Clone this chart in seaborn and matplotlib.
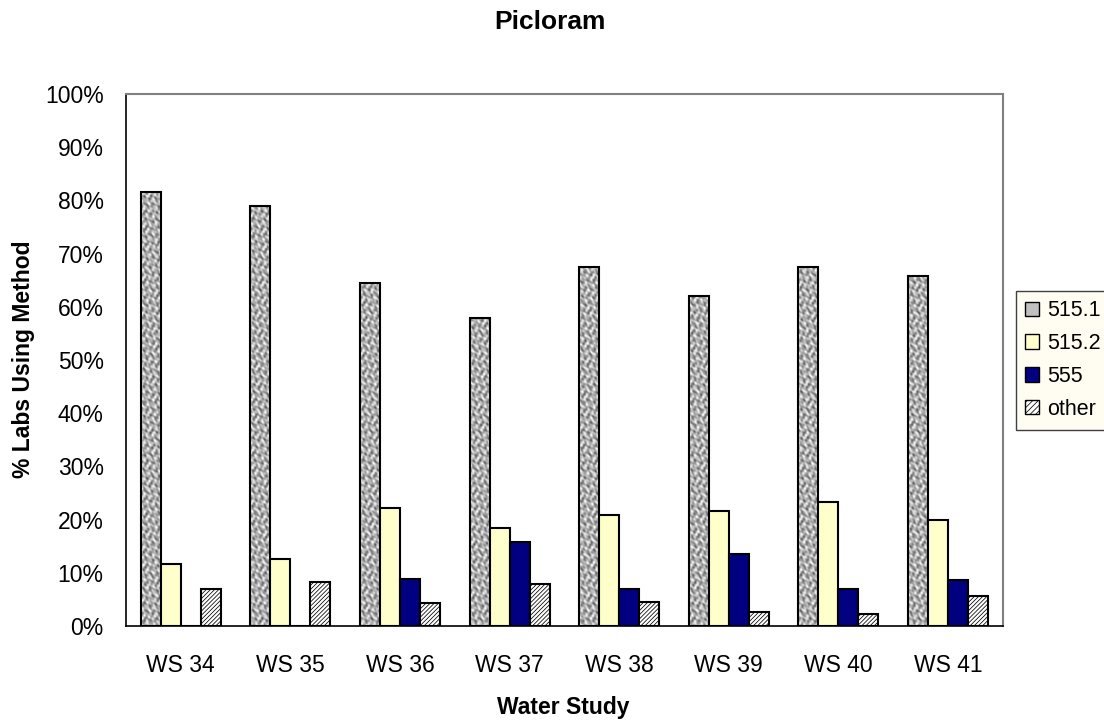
import numpy as np
import pandas as pd
import seaborn as sns
import matplotlib.pyplot as plt
from matplotlib.patches import Patch
from matplotlib.ticker import PercentFormatter, FixedLocator

# Picloram: share of labs using each method per water study
studies = ['WS 34', 'WS 35', 'WS 36', 'WS 37', 'WS 38', 'WS 39', 'WS 40', 'WS 41']
methods = ['515.1', '515.2', '555', 'other']
m515_1 = [81.5, 79.0, 64.5, 57.8, 67.4, 62.1, 67.4, 65.7]
m515_2 = [11.6, 12.5, 22.2, 18.5, 20.9, 21.6, 23.3, 20.0]
m555 = [0.0, 0.0, 8.9, 15.8, 7.0, 13.5, 7.0, 8.6]
other = [7.0, 8.3, 4.4, 7.9, 4.6, 2.7, 2.3, 5.7]

df = pd.DataFrame({
    'study': studies * 4,
    'method': np.repeat(methods, len(studies)),
    'pct': m515_1 + m515_2 + m555 + other,
})

sns.set_style('white')
plt.rcParams['font.family'] = ['Liberation Sans', 'DejaVu Sans']
plt.rcParams['text.color'] = 'black'
plt.rcParams['xtick.color'] = 'black'
plt.rcParams['ytick.color'] = 'black'
plt.rcParams['hatch.linewidth'] = 0.55
plt.rcParams['hatch.color'] = '#444444'

colors = {'515.1': '#b0b0b0', '515.2': '#ffffcc', '555': '#000080', 'other': '#ffffff'}

fig = plt.figure(figsize=(11.04, 7.23), dpi=100)
ax = fig.add_axes([0.1141, 0.1342, 0.7941, 0.7358])

sns.barplot(data=df, x='study', y='pct', hue='method', order=studies,
            hue_order=methods, palette=colors, saturation=1, width=0.73, gap=0,
            edgecolor='black', linewidth=1.5, legend=False, ax=ax)

# mottled granite-like texture for 515.1 bars (pixel-scale pattern)
u, v = np.meshgrid(np.arange(0, 22, 0.5), np.arange(0, 540, 0.5))
for k, bar in enumerate(ax.containers[0]):
    ph = 1.37 * k
    tex = (np.sin(u * 0.95 + 1.8 * np.sin(v * 0.37 + ph))
           + np.sin(v * 0.83 + 1.6 * np.sin(u * 0.61 + v * 0.11 + ph))
           + 0.8 * np.sin((u + v) * 1.21 + ph) * np.cos((u - v) * 0.53))
    x0, w = bar.get_x(), bar.get_width()
    im = ax.imshow(tex, cmap='gray', vmin=-5.0, vmax=2.3, aspect='auto',
                   extent=[x0, x0 + w, 0, 101], origin='lower', interpolation='bilinear',
                   zorder=bar.get_zorder() - 0.1)
    im.set_clip_path(bar)
    bar.set_facecolor('none')

# fine diagonal hatch for "other"
for bar in ax.containers[3]:
    bar.set_hatch('////////')

ax.set_xlim(-0.5, 7.5)
ax.set_ylim(0, 100)
ax.yaxis.set_major_locator(FixedLocator(np.arange(0, 101, 10)))
ax.yaxis.set_major_formatter(PercentFormatter(decimals=0))

# x ticks at group boundaries, labels centered
ax.set_xticks(np.arange(-0.5, 8, 1.0))
ax.set_xticklabels([])
ax.set_xticks(np.arange(len(studies)), minor=True)
ax.set_xticklabels(studies, minor=True)
ax.tick_params(axis='x', which='major', direction='out', length=7, width=1, color='black')
ax.tick_params(axis='x', which='minor', length=0, pad=20, labelsize=16.5)
ax.tick_params(axis='y', direction='out', length=7, width=1, color='black', pad=9, labelsize=16.5)

for side in ['left', 'bottom']:
    ax.spines[side].set_color('black')
    ax.spines[side].set_linewidth(1.2)
for side in ['top', 'right']:
    ax.spines[side].set_color('#808080')
    ax.spines[side].set_linewidth(1.5)

ax.set_xlabel('')
ax.set_ylabel('')
fig.text(0.498, 0.969, 'Picloram', ha='center', va='center', fontsize=19, fontweight='bold')
fig.text(0.021, 0.503, '% Labs Using Method', ha='center', va='center', rotation=90,
         fontsize=16.5, fontweight='bold')
fig.text(0.51, 0.021, 'Water Study', ha='center', va='center', fontsize=16.5, fontweight='bold')

handles = [
    Patch(facecolor='#c0c0c0', edgecolor='black', linewidth=1, label='515.1'),
    Patch(facecolor='#ffffcc', edgecolor='black', linewidth=1, label='515.2'),
    Patch(facecolor='#000080', edgecolor='black', linewidth=1, label='555'),
    Patch(facecolor='white', edgecolor='black', linewidth=1, hatch='//////', label='other'),
]
leg = fig.legend(handles=handles, loc='upper left', bbox_to_anchor=(0.920, 0.598),
                 bbox_transform=fig.transFigure, fontsize=15.5, frameon=True,
                 fancybox=False, framealpha=1, edgecolor='#404040',
                 handlelength=0.65, handleheight=0.65, handletextpad=0.35,
                 labelspacing=0.55, borderpad=0.45, borderaxespad=0)
leg.get_frame().set_facecolor('#fffdf2')
leg.get_frame().set_linewidth(1.0)

fig.savefig('out.png', dpi=100)
plt.close(fig)
